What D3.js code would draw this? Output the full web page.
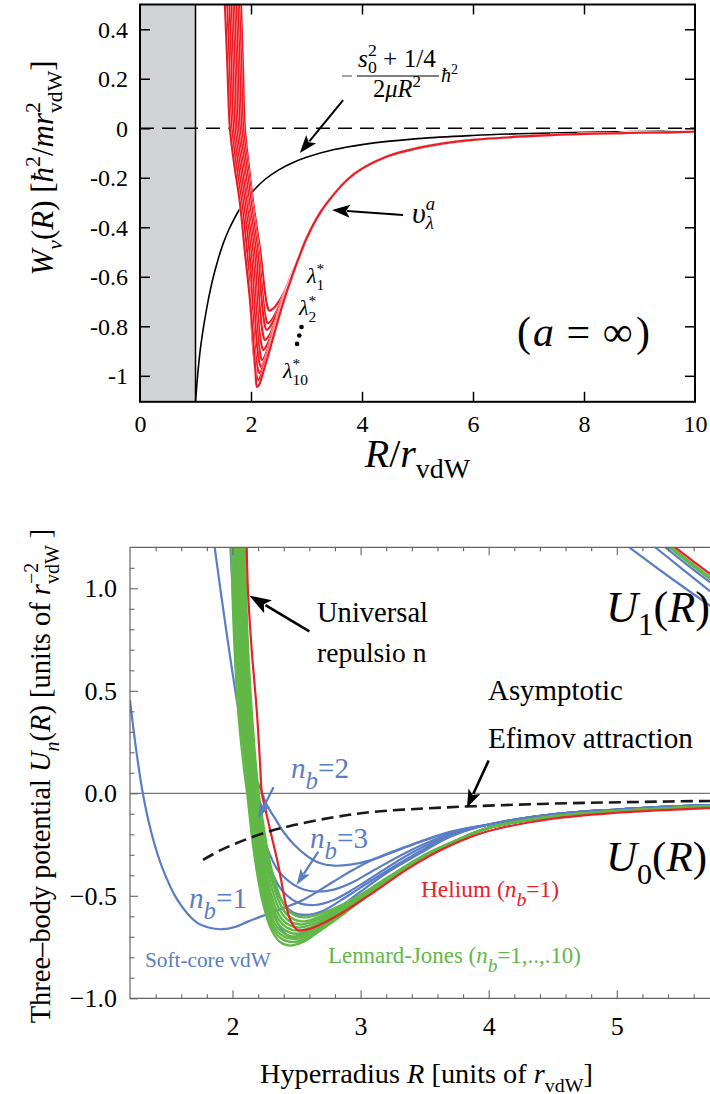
<!DOCTYPE html>
<html>
<head>
<meta charset="utf-8">
<script src="https://cdn.jsdelivr.net/npm/d3@7"></script>
<style>
  body { margin: 0; background: #fff; }
  svg { display: block; }
  svg text, svg tspan { font-family: "Liberation Serif", Tinos, "Times New Roman", "DejaVu Serif", serif !important; }
</style>
</head>
<body>
<svg id="chart" width="710" height="1094"></svg>
<script>
// ---------- top panel data: W_nu(R) vs R/r_vdW ----------
const topTicksX = [0, 2, 4, 6, 8, 10];
const topTicksY = [0.4, 0.2, 0, -0.2, -0.4, -0.6, -0.8, -1];
const topTickLabelsY = ['0.4', '0.2', '0', '-0.2', '-0.4', '-0.6', '-0.8', '-1'];

// black curve  -(s0^2+1/4)/(2 mu R^2)
const hyperCurve = [[1.0,-1.105],[1.05,-0.97],[1.1,-0.87],[1.2,-0.73],[1.3,-0.62],[1.4,-0.535],[1.5,-0.465],
  [1.6,-0.41],[1.8,-0.325],[2.0,-0.263],[2.25,-0.207],[2.5,-0.168],[2.75,-0.139],[3.0,-0.117],[3.5,-0.086],
  [4.0,-0.066],[5.0,-0.042],[6.0,-0.029],[7.0,-0.021],[8.0,-0.016],[9.0,-0.013],[10.0,-0.0105]];

// red curves lambda_1* ... lambda_10* (inner part), shared tail below
const lambdaCurves = [
  [[1.82,0.5],[1.855,0.25],[1.89,0],[1.96,-0.15],[2.04,-0.3],[2.17,-0.5],[2.24,-0.64],[2.29,-0.715],[2.33,-0.737],[2.40,-0.728],[2.5,-0.70],[2.6,-0.66],[2.72,-0.595],[2.85,-0.53]],
  [[1.79,0.5],[1.825,0.25],[1.86,0],[1.94,-0.15],[2.02,-0.3],[2.14,-0.5],[2.21,-0.67],[2.26,-0.76],[2.30,-0.787],[2.37,-0.775],[2.48,-0.73],[2.6,-0.665],[2.72,-0.598],[2.85,-0.53]],
  [[1.76,0.5],[1.795,0.25],[1.83,0],[1.915,-0.15],[2.0,-0.3],[2.12,-0.5],[2.19,-0.69],[2.24,-0.785],[2.28,-0.814],[2.35,-0.80],[2.46,-0.75],[2.6,-0.668],[2.72,-0.60],[2.85,-0.53]],
  [[1.73,0.5],[1.765,0.25],[1.80,0],[1.885,-0.15],[1.97,-0.3],[2.09,-0.5],[2.16,-0.73],[2.21,-0.825],[2.25,-0.855],[2.32,-0.84],[2.44,-0.78],[2.58,-0.685],[2.72,-0.603],[2.85,-0.53]],
  [[1.70,0.5],[1.735,0.25],[1.77,0],[1.855,-0.15],[1.94,-0.3],[2.06,-0.5],[2.13,-0.77],[2.18,-0.865],[2.22,-0.895],[2.29,-0.875],[2.42,-0.80],[2.58,-0.69],[2.72,-0.605],[2.85,-0.53]],
  [[1.67,0.5],[1.705,0.25],[1.74,0],[1.83,-0.15],[1.92,-0.3],[2.03,-0.5],[2.11,-0.80],[2.16,-0.905],[2.20,-0.936],[2.27,-0.91],[2.4,-0.82],[2.58,-0.695],[2.72,-0.607],[2.85,-0.53]],
  [[1.64,0.5],[1.675,0.25],[1.71,0],[1.80,-0.15],[1.89,-0.3],[2.0,-0.5],[2.09,-0.83],[2.14,-0.935],[2.18,-0.964],[2.25,-0.935],[2.4,-0.83],[2.58,-0.698],[2.72,-0.608],[2.85,-0.53]],
  [[1.61,0.5],[1.645,0.25],[1.68,0],[1.77,-0.15],[1.86,-0.3],[1.97,-0.5],[2.06,-0.86],[2.11,-0.96],[2.15,-0.989],[2.22,-0.96],[2.4,-0.835],[2.58,-0.70],[2.72,-0.609],[2.85,-0.53]],
  [[1.57,0.5],[1.61,0.25],[1.65,0],[1.735,-0.15],[1.83,-0.3],[1.93,-0.5],[2.04,-0.89],[2.09,-0.99],[2.13,-1.017],[2.2,-0.985],[2.4,-0.84],[2.58,-0.703],[2.72,-0.61],[2.85,-0.53]],
  [[1.53,0.5],[1.575,0.25],[1.62,0],[1.70,-0.15],[1.80,-0.3],[1.89,-0.5],[1.98,-0.69],[2.04,-0.855],[2.08,-0.98],[2.11,-1.045],[2.15,-1.035],[2.2,-1.0],[2.28,-0.94],[2.4,-0.845],[2.5,-0.765],[2.6,-0.69],[2.72,-0.61],[2.85,-0.53]]
];
const lambdaTail = [[3.0,-0.445],[3.25,-0.34],[3.5,-0.265],[3.75,-0.205],[4.0,-0.163],[4.5,-0.11],[5.0,-0.08],
  [5.5,-0.06],[6.0,-0.047],[7.0,-0.032],[8.0,-0.023],[9.0,-0.018],[10.0,-0.014]];

// ---------- bottom panel data: U_n(R) vs hyperradius ----------
const botTicksX = [2, 3, 4, 5];
const botTicksY = [1.0, 0.5, 0.0, -0.5, -1.0];
const botTickLabelsY = ['1.0', '0.5', '0.0', '\u22120.5', '\u22121.0'];

const efimovCurve = [[1.77,-0.325],[1.9,-0.28],[2.03,-0.244],[2.24,-0.195],[2.48,-0.155],[2.79,-0.117],
  [3.09,-0.091],[3.5,-0.074],[3.88,-0.063],[4.4,-0.052],[4.91,-0.045],[5.4,-0.04],[5.9,-0.036]];

// soft-core vdW (blue): n_b = 1, 2, 3, then deeper ones
const softCore = [
  [[1.2,0.455],[1.24,0.25],[1.30,0.0],[1.37,-0.2],[1.45,-0.36],[1.57,-0.52],[1.72,-0.63],[1.82,-0.656],[1.92,-0.663],[2.02,-0.652],[2.12,-0.626],[2.33,-0.575],[2.55,-0.52],[2.79,-0.43],[2.94,-0.374],[3.09,-0.325],[3.4,-0.25],[3.7,-0.188]],
  [[1.85,1.25],[1.95,0.8],[2.06,0.36],[2.14,0.14],[2.22,0.02],[2.27,-0.06],[2.33,-0.12],[2.40,-0.19],[2.48,-0.25],[2.57,-0.30],[2.68,-0.34],[2.79,-0.353],[2.92,-0.348],[3.09,-0.325],[3.4,-0.252],[3.7,-0.19]],
  [[1.98,1.25],[2.02,0.8],[2.07,0.4],[2.12,0.12],[2.18,-0.08],[2.26,-0.25],[2.36,-0.38],[2.48,-0.447],[2.57,-0.472],[2.67,-0.48],[2.79,-0.47],[2.95,-0.43],[3.09,-0.38],[3.4,-0.275],[3.7,-0.197]],
  [[2.0,1.25],[2.04,0.8],[2.08,0.4],[2.13,0.1],[2.19,-0.12],[2.27,-0.32],[2.37,-0.46],[2.5,-0.53],[2.64,-0.545],[2.79,-0.52],[2.95,-0.465],[3.09,-0.41],[3.4,-0.29],[3.7,-0.203]],
  [[2.02,1.25],[2.05,0.8],[2.09,0.4],[2.14,0.1],[2.2,-0.15],[2.28,-0.37],[2.38,-0.52],[2.47,-0.58],[2.57,-0.593],[2.7,-0.575],[2.85,-0.52],[3.0,-0.46],[3.2,-0.38],[3.5,-0.27],[3.7,-0.207]],
  [[2.03,1.25],[2.06,0.8],[2.1,0.4],[2.14,0.1],[2.2,-0.2],[2.27,-0.45],[2.35,-0.63],[2.45,-0.70],[2.55,-0.685],[2.7,-0.62],[2.85,-0.55],[3.0,-0.48],[3.2,-0.39],[3.5,-0.28],[3.7,-0.212]]
];
const softTail = [[4.0,-0.152],[4.5,-0.103],[5.0,-0.079],[5.5,-0.063],[6.0,-0.052]];

// Lennard-Jones (green), n_b = 1..10
const lennardJones = [
  [[2.095,1.25],[2.115,0.8],[2.15,0.4],[2.185,0.12],[2.205,0],[2.24,-0.15],[2.28,-0.3],[2.33,-0.43],[2.39,-0.53],[2.46,-0.585],[2.55,-0.605],[2.65,-0.595],[2.8,-0.56],[3.0,-0.495],[3.2,-0.415],[3.5,-0.3],[3.75,-0.228]],
  [[2.085,1.25],[2.105,0.8],[2.14,0.4],[2.175,0.12],[2.195,0],[2.23,-0.16],[2.27,-0.31],[2.32,-0.45],[2.38,-0.55],[2.45,-0.605],[2.54,-0.625],[2.64,-0.612],[2.8,-0.57],[3.0,-0.5],[3.2,-0.418],[3.5,-0.302],[3.75,-0.229]],
  [[2.075,1.25],[2.095,0.8],[2.13,0.4],[2.165,0.12],[2.185,0],[2.22,-0.17],[2.26,-0.33],[2.31,-0.47],[2.37,-0.57],[2.44,-0.622],[2.53,-0.64],[2.63,-0.625],[2.8,-0.578],[3.0,-0.505],[3.2,-0.42],[3.5,-0.303],[3.75,-0.23]],
  [[2.065,1.25],[2.085,0.8],[2.12,0.4],[2.158,0.12],[2.177,0],[2.21,-0.175],[2.25,-0.345],[2.3,-0.49],[2.36,-0.59],[2.43,-0.638],[2.52,-0.655],[2.62,-0.64],[2.8,-0.585],[3.0,-0.508],[3.2,-0.422],[3.5,-0.304],[3.75,-0.23]],
  [[2.055,1.25],[2.075,0.8],[2.11,0.4],[2.15,0.12],[2.168,0],[2.2,-0.18],[2.24,-0.355],[2.29,-0.505],[2.35,-0.605],[2.42,-0.653],[2.51,-0.67],[2.61,-0.655],[2.8,-0.593],[3.0,-0.512],[3.2,-0.424],[3.5,-0.305],[3.75,-0.231]],
  [[2.045,1.25],[2.065,0.8],[2.1,0.4],[2.142,0.12],[2.16,0],[2.19,-0.185],[2.23,-0.36],[2.28,-0.515],[2.34,-0.62],[2.41,-0.668],[2.50,-0.685],[2.6,-0.668],[2.8,-0.6],[3.0,-0.515],[3.2,-0.426],[3.5,-0.306],[3.75,-0.232]],
  [[2.035,1.25],[2.055,0.8],[2.09,0.4],[2.133,0.12],[2.152,0],[2.18,-0.19],[2.22,-0.365],[2.27,-0.525],[2.33,-0.635],[2.4,-0.683],[2.49,-0.70],[2.59,-0.682],[2.8,-0.605],[3.0,-0.518],[3.2,-0.427],[3.5,-0.307],[3.75,-0.233]],
  [[2.02,1.25],[2.04,0.8],[2.075,0.4],[2.12,0.12],[2.138,0],[2.17,-0.195],[2.21,-0.37],[2.26,-0.53],[2.32,-0.645],[2.39,-0.695],[2.48,-0.71],[2.58,-0.695],[2.8,-0.61],[3.0,-0.52],[3.2,-0.428],[3.5,-0.308],[3.75,-0.234]],
  [[2.005,1.25],[2.025,0.8],[2.06,0.4],[2.105,0.12],[2.127,0],[2.16,-0.198],[2.2,-0.375],[2.25,-0.535],[2.31,-0.652],[2.38,-0.708],[2.47,-0.725],[2.57,-0.71],[2.8,-0.615],[3.0,-0.522],[3.2,-0.429],[3.5,-0.309],[3.75,-0.234]],
  [[1.99,1.25],[2.01,0.8],[2.045,0.4],[2.09,0.12],[2.115,0],[2.15,-0.2],[2.19,-0.38],[2.24,-0.54],[2.3,-0.66],[2.37,-0.725],[2.45,-0.743],[2.55,-0.725],[2.65,-0.685],[2.8,-0.62],[3.0,-0.525],[3.2,-0.43],[3.5,-0.31],[3.75,-0.235]]
];
const ljTail = [[4.0,-0.168],[4.5,-0.113],[5.0,-0.087],[5.5,-0.07],[6.0,-0.058]];

// helium (red)
const helium = [[2.11,1.25],[2.12,1.0],[2.15,0.7],[2.19,0.4],[2.215,0.15],[2.23,0],[2.265,-0.1],[2.30,-0.195],
  [2.36,-0.358],[2.42,-0.553],[2.46,-0.63],[2.51,-0.667],[2.58,-0.665],[2.67,-0.645],[2.85,-0.585],[3.09,-0.488],
  [3.39,-0.36],[3.70,-0.255],[4.0,-0.184],[4.5,-0.124],[5.0,-0.095],[5.5,-0.078],[6.0,-0.066]];

// first excited channel U_1(R), top right corner
const u1Soft = [[[4.99,1.25],[5.4,1.06],[5.9,0.84]], [[5.2,1.25],[5.5,1.1],[5.9,0.9]], [[5.28,1.25],[5.6,1.09],[5.9,0.95]]];
const u1LJ = [[[5.31,1.25],[5.6,1.105],[5.9,0.965]], [[5.33,1.25],[5.6,1.115],[5.9,0.975]]];
const u1Helium = [[5.35,1.25],[5.6,1.13],[5.9,0.99]];

// ---------- colours / fonts ----------
const RED = '#ec1c24';
const BLUE = '#5a7dc5';
const GREEN = '#62b847';
const HE_RED = '#e8212a';

const svg = d3.select('#chart');
const defs = svg.append('defs');

// font width factor relative to Times digits (0.5em)
const probe = svg.append('text').attr('x', -2000).attr('y', -100)
  .attr('font-size', 100).text('0000000000');
const FK = Math.min(1, 500 / (probe.node().getComputedTextLength() || 500));
probe.remove();

// ---------- helpers ----------
function rich(parent, x, y, parts, o) {
  const make = fs => {
    const t = parent.append('text')
      .attr('x', x).attr('y', y)
      .attr('font-size', fs)
      .attr('fill', o.color || '#000')
      .attr('text-anchor', o.anchor || 'start');
    let shift = 0, prev = null;
    parts.forEach(p => {
      const s = p.sub ? fs * (p.low || 0.3) : p.sup ? -fs * 0.42 : 0;
      const sz = (p.sub || p.sup) ? fs * (p.scale || 0.7) : fs;
      const ts = t.append('tspan').text(p.t).attr('dy', s - shift).attr('font-size', sz);
      if (p.i) ts.attr('font-style', 'italic');
      let dx = (p.dxe || 0) * fs;
      if (p.back && prev) dx -= prev.node().getComputedTextLength();
      if (dx) ts.attr('dx', dx);
      shift = s;
      prev = ts;
    });
    return t;
  };
  let t = make(o.size * FK);
  if (o.width) {
    const L = t.node().getBBox().width;
    if (L > 0) { const f = o.size * FK * o.width / L; t.remove(); t = make(f); }
  }
  return t;
}

function arrow(g, p0, p1, color, w, hl, hw) {
  const dx = p1[0] - p0[0], dy = p1[1] - p0[1];
  const L = Math.hypot(dx, dy);
  const ux = dx / L, uy = dy / L;
  const bx = p1[0] - ux * hl, by = p1[1] - uy * hl;
  g.append('line')
    .attr('x1', p0[0]).attr('y1', p0[1])
    .attr('x2', bx + ux * 3).attr('y2', by + uy * 3)
    .attr('stroke', color).attr('stroke-width', w);
  g.append('path')
    .attr('d', `M${p1[0]},${p1[1]}L${bx - uy * hw / 2},${by + ux * hw / 2}` +
               `L${bx + ux * hl * 0.22},${by + uy * hl * 0.22}L${bx + uy * hw / 2},${by - ux * hw / 2}Z`)
    .attr('fill', color);
}

// =====================================================================
// TOP PANEL
// =====================================================================
const xT = d3.scaleLinear().domain([0, 10]).range([140, 695]);
const yT = d3.scaleLinear().domain([-1.105, 0.5]).range([401.8, 4.5]);

defs.append('clipPath').attr('id', 'clipTop')
  .append('rect').attr('x', 140).attr('y', 4.5).attr('width', 555).attr('height', 397.3);

const topG = svg.append('g');
const topPlot = topG.append('g').attr('clip-path', 'url(#clipTop)');

const lineT = d3.line()
  .x(d => xT(d[0])).y(d => yT(d[1]))
  .curve(d3.curveCatmullRom.alpha(0.5));

// excluded region R < r_vdW
topPlot.append('rect')
  .attr('x', xT(0)).attr('y', yT(0.5))
  .attr('width', xT(1) - xT(0)).attr('height', yT(-1.105) - yT(0.5))
  .attr('fill', '#d2d3d5');
topPlot.append('line')
  .attr('x1', xT(1)).attr('x2', xT(1)).attr('y1', yT(0.5)).attr('y2', yT(-1.105))
  .attr('stroke', '#000').attr('stroke-width', 1.5);

// zero line
topPlot.append('line')
  .attr('x1', xT(0)).attr('x2', xT(10)).attr('y1', yT(0)).attr('y2', yT(0))
  .attr('stroke', '#000').attr('stroke-width', 1.5).attr('stroke-dasharray', '14,8');

// -C/R^2 curve
topPlot.append('path').datum(hyperCurve)
  .attr('d', lineT).attr('fill', 'none')
  .attr('stroke', '#000').attr('stroke-width', 1.6);

// lambda curves
lambdaCurves.forEach(c => {
  const pts = c.concat(lambdaTail);
  topPlot.append('path').datum(pts).attr('d', lineT).attr('fill', 'none')
    .attr('stroke', '#fff').attr('stroke-width', 2.6);
  topPlot.append('path').datum(pts).attr('d', lineT).attr('fill', 'none')
    .attr('stroke', RED).attr('stroke-width', 2.2);
});

// frame
topG.append('rect')
  .attr('x', 140).attr('y', 4.5).attr('width', 555).attr('height', 397.3)
  .attr('fill', 'none').attr('stroke', '#000').attr('stroke-width', 2);

// axes (ticks inward)
const axL = topG.append('g').attr('transform', 'translate(140,0)')
  .call(d3.axisLeft(yT).tickValues(topTicksY).tickSize(-10).tickPadding(12)
    .tickFormat((d, i) => topTickLabelsY[i]));
const axR = topG.append('g').attr('transform', 'translate(695,0)')
  .call(d3.axisRight(yT).tickValues(topTicksY).tickSize(-10).tickFormat(''));
const axB = topG.append('g').attr('transform', 'translate(0,401.8)')
  .call(d3.axisBottom(xT).tickValues(topTicksX).tickSize(-10).tickFormat(d3.format('d')));
const axTp = topG.append('g').attr('transform', 'translate(0,4.5)')
  .call(d3.axisTop(xT).tickValues([2, 4, 6, 8]).tickSize(-10).tickFormat(''));
[axL, axR, axB, axTp].forEach(a => {
  a.attr('font-family', null).attr('font-size', null);
  a.select('.domain').remove();
  a.selectAll('line').attr('stroke', '#000').attr('stroke-width', 1.5);
  a.selectAll('text').attr('font-size', 24 * FK).attr('fill', '#000');
});
axB.selectAll('line').filter(d => d === 0 || d === 10).remove();
axB.selectAll('text').attr('dy', null).attr('y', 30);
axL.selectAll('text').attr('dy', '0.33em');

// axis titles
rich(topG, xT(5), 467, [
  { t: 'R', i: true }, { t: '/' }, { t: 'r', i: true }, { t: 'vdW', sub: true, low: 0.28 }
], { size: 29, anchor: 'middle', width: 108 });

const yTitle = topG.append('g').attr('transform', 'translate(53,168) rotate(-90)');
rich(yTitle, 0, 0, [
  { t: 'W', i: true }, { t: '\u03bd', sub: true, i: true }, { t: '(' }, { t: 'R', i: true }, { t: ') [' },
  { t: '\u0127', i: true }, { t: '2', sup: true }, { t: '/' }, { t: 'mr', i: true },
  { t: '2', sup: true }, { t: 'vdW', sub: true, back: true }, { t: ']' }
], { size: 28, anchor: 'middle', width: 215 });

// formula annotation
rich(topG, 397, 67, [
  { t: 's', i: true }, { t: '2', sup: true }, { t: '0', sub: true, back: true, low: 0.25 }, { t: ' + 1/4' }
], { size: 20, anchor: 'middle', width: 78 });
topG.append('line').attr('x1', 357).attr('x2', 439).attr('y1', 76).attr('y2', 76)
  .attr('stroke', '#000').attr('stroke-width', 1);
rich(topG, 397, 97, [
  { t: '2' }, { t: '\u03bc', i: true }, { t: 'R', i: true }, { t: '2', sup: true }
], { size: 20, anchor: 'middle', width: 48 });
topG.append('line').attr('x1', 342).attr('x2', 352).attr('y1', 76).attr('y2', 76)
  .attr('stroke', '#444').attr('stroke-width', 1);
rich(topG, 441, 82, [{ t: '\u0127', i: true }, { t: '2', sup: true }], { size: 20 });
arrow(topG, [xT(3.66), yT(0.114)], [xT(2.88), yT(-0.10)], '#000', 2, 18, 13);

// v_lambda^a annotation
rich(topG, 412, 223, [
  { t: '\u03c5', i: true }, { t: 'a', sup: true, i: true, scale: 0.62 },
  { t: '\u03bb', sub: true, i: true, back: true, scale: 0.62, low: 0.2 }
], { size: 30 });
arrow(topG, [xT(4.74), yT(-0.35)], [xT(3.46), yT(-0.33)], '#000', 2, 18, 13);

// lambda_n* labels
rich(topG, 307, 283, [{ t: '\u03bb', i: true }, { t: '*', sup: true }, { t: '1', sub: true, back: true }], { size: 22 });
rich(topG, 299, 315, [{ t: '\u03bb', i: true }, { t: '*', sup: true }, { t: '2', sub: true, back: true }], { size: 22 });
rich(topG, 283, 378, [{ t: '\u03bb', i: true }, { t: '*', sup: true }, { t: '10', sub: true, back: true }], { size: 22 });
const dots = [[2.83, -0.871], [2.87, -0.837], [2.91, -0.803]];
topG.selectAll('circle.dot').data(dots).enter().append('circle')
  .attr('cx', d => xT(d[0])).attr('cy', d => yT(d[1])).attr('r', 2.3).attr('fill', '#000');

// (a = inf)
rich(topG, 517, 346, [
  { t: '(' }, { t: 'a', i: true, dxe: 0.05 }, { t: '=', dxe: 0.3 }, { t: '\u221e', dxe: 0.3 }, { t: ')', dxe: 0.08 }
], { size: 34, width: 133 });

// =====================================================================
// BOTTOM PANEL
// =====================================================================
const xB = d3.scaleLinear().domain([1.2, 6]).range([130, 744.9]);
const yB = d3.scaleLinear().domain([-1, 1.2]).range([998.3, 547.3]);

defs.append('clipPath').attr('id', 'clipBot')
  .append('rect').attr('x', 130).attr('y', 547.3).attr('width', 580).attr('height', 451);

const botG = svg.append('g');
const botPlot = botG.append('g').attr('clip-path', 'url(#clipBot)');

const lineB = d3.line()
  .x(d => xB(d[0])).y(d => yB(d[1]))
  .curve(d3.curveCatmullRom.alpha(0.5));

// zero line
botPlot.append('line')
  .attr('x1', xB(1.2)).attr('x2', xB(6)).attr('y1', yB(0)).attr('y2', yB(0))
  .attr('stroke', '#777').attr('stroke-width', 1.2);

// curves: blue, then green, then red
softCore.forEach(c => {
  botPlot.append('path').datum(c.concat(softTail)).attr('d', lineB).attr('fill', 'none')
    .attr('stroke', BLUE).attr('stroke-width', 2.2);
});
lennardJones.forEach(c => {
  botPlot.append('path').datum(c.concat(ljTail)).attr('d', lineB).attr('fill', 'none')
    .attr('stroke', GREEN).attr('stroke-width', 2.4);
});
botPlot.append('path').datum(helium).attr('d', lineB).attr('fill', 'none')
  .attr('stroke', HE_RED).attr('stroke-width', 2.2);

u1Soft.forEach(c => {
  botPlot.append('path').datum(c).attr('d', lineB).attr('fill', 'none')
    .attr('stroke', BLUE).attr('stroke-width', 2.2);
});
u1LJ.forEach(c => {
  botPlot.append('path').datum(c).attr('d', lineB).attr('fill', 'none')
    .attr('stroke', GREEN).attr('stroke-width', 2.2);
});
botPlot.append('path').datum(u1Helium).attr('d', lineB).attr('fill', 'none')
  .attr('stroke', HE_RED).attr('stroke-width', 2.2);

// asymptotic Efimov attraction (dashed)
botPlot.append('path').datum(efimovCurve).attr('d', lineB).attr('fill', 'none')
  .attr('stroke', '#1a1a1a').attr('stroke-width', 2.6).attr('stroke-dasharray', '12,6');

// frame (left, top, bottom)
botG.append('path')
  .attr('d', `M710,${yB(1.2)}H${xB(1.2)}V${yB(-1)}H710`)
  .attr('fill', 'none').attr('stroke', '#666').attr('stroke-width', 1.2);

const minorX = d3.range(1.4, 5.81, 0.2).filter(v => Math.abs(v - Math.round(v)) > 0.01);
const minorY = d3.range(-0.9, 1.15, 0.1).filter(v => Math.abs(v * 2 - Math.round(v * 2)) > 0.01);

function styleAxis(a) {
  a.attr('font-family', null).attr('font-size', null);
  a.select('.domain').remove();
  a.selectAll('line').attr('stroke', '#666').attr('stroke-width', 1.1);
  a.selectAll('text').attr('font-size', 26 * FK).attr('fill', '#000');
}
const bB = botG.append('g').attr('transform', `translate(0,${yB(-1)})`)
  .call(d3.axisBottom(xB).tickValues(botTicksX).tickSize(-8).tickFormat(d3.format('d')));
styleAxis(bB);
bB.selectAll('text').attr('dy', null).attr('y', 37);
const bBm = botG.append('g').attr('transform', `translate(0,${yB(-1)})`)
  .call(d3.axisBottom(xB).tickValues(minorX).tickSize(-4).tickFormat(''));
styleAxis(bBm);
const bT = botG.append('g').attr('transform', `translate(0,${yB(1.2)})`)
  .call(d3.axisTop(xB).tickValues(botTicksX).tickSize(-8).tickFormat(''));
styleAxis(bT);
const bTm = botG.append('g').attr('transform', `translate(0,${yB(1.2)})`)
  .call(d3.axisTop(xB).tickValues(minorX).tickSize(-4).tickFormat(''));
styleAxis(bTm);
const bL = botG.append('g').attr('transform', `translate(${xB(1.2)},0)`)
  .call(d3.axisLeft(yB).tickValues(botTicksY).tickSize(-8).tickPadding(13)
    .tickFormat((d, i) => botTickLabelsY[i]));
styleAxis(bL);
bL.selectAll('text').attr('dy', '0.33em');
const bLm = botG.append('g').attr('transform', `translate(${xB(1.2)},0)`)
  .call(d3.axisLeft(yB).tickValues(minorY).tickSize(-4.5).tickFormat(''));
styleAxis(bLm);

// axis titles
rich(botG, 260, 1083, [
  { t: 'Hyperradius ' }, { t: 'R', i: true }, { t: ' [units of ' }, { t: 'r', i: true },
  { t: 'vdW', sub: true, low: 0.3 }, { t: ']' }
], { size: 28, width: 333 });

const yTitleB = botG.append('g').attr('transform', 'translate(50,776) rotate(-90)');
rich(yTitleB, 0, 0, [
  { t: 'Three\u2013body potential ' }, { t: 'U', i: true }, { t: 'n', sub: true, i: true },
  { t: '(' }, { t: 'R', i: true }, { t: ') [units of ' }, { t: 'r', i: true },
  { t: '\u22122', sup: true }, { t: 'vdW', sub: true, back: true }, { t: ' ]' }
], { size: 28, anchor: 'middle', width: 495 });

// annotations
rich(botG, 317, 622, [{ t: 'Universal' }], { size: 27, width: 111 });
rich(botG, 317, 662, [{ t: 'repulsio n' }], { size: 27, width: 110 });
arrow(botG, [xB(2.6), yB(0.79)], [xB(2.13), yB(0.965)], '#000', 2.6, 22, 15);

rich(botG, 488, 700, [{ t: 'Asymptotic' }], { size: 28, width: 135 });
rich(botG, 488, 748, [{ t: 'Efimov attraction' }], { size: 28, width: 205 });
arrow(botG, [xB(4.0), yB(0.16)], [xB(3.83), yB(-0.07)], '#000', 2.6, 18, 13);

rich(botG, 606, 622, [
  { t: 'U', i: true }, { t: '1', sub: true, low: 0.3 }, { t: '(' }, { t: 'R', i: true }, { t: ')' }
], { size: 44, width: 104 });
rich(botG, 606, 871, [
  { t: 'U', i: true }, { t: '0', sub: true, low: 0.3 }, { t: '(' }, { t: 'R', i: true }, { t: ')' }
], { size: 44, width: 101 });

rich(botG, 291, 778, [
  { t: 'n', i: true }, { t: 'b', i: true, sub: true, scale: 0.85, low: 0.38 }, { t: '=2' }
], { size: 24, color: BLUE, width: 58 });
arrow(botG, [xB(2.32), yB(0.03)], [xB(2.2), yB(-0.122)], BLUE, 2.2, 16, 11);
rich(botG, 310, 848, [
  { t: 'n', i: true }, { t: 'b', i: true, sub: true, scale: 0.85, low: 0.38 }, { t: '=3' }
], { size: 24, color: BLUE, width: 58 });
arrow(botG, [xB(2.67), yB(-0.285)], [xB(2.5), yB(-0.447)], BLUE, 2.2, 16, 11);
rich(botG, 189, 908, [
  { t: 'n', i: true }, { t: 'b', i: true, sub: true, scale: 0.85, low: 0.38 }, { t: '=1' }
], { size: 24, color: BLUE, width: 58 });

rich(botG, 145, 967, [{ t: 'Soft-core vdW' }], { size: 21, color: BLUE, width: 126 });
rich(botG, 328, 963, [
  { t: 'Lennard-Jones  (' }, { t: 'n', i: true }, { t: 'b', i: true, sub: true, scale: 0.85, low: 0.38 },
  { t: '=1,..,.10)' }
], { size: 21, color: GREEN, width: 253 });
rich(botG, 421, 897, [
  { t: 'Helium (' }, { t: 'n', i: true }, { t: 'b', i: true, sub: true, scale: 0.85, low: 0.38 }, { t: '=1)' }
], { size: 21, color: HE_RED, width: 138 });
</script>
</body>
</html>
